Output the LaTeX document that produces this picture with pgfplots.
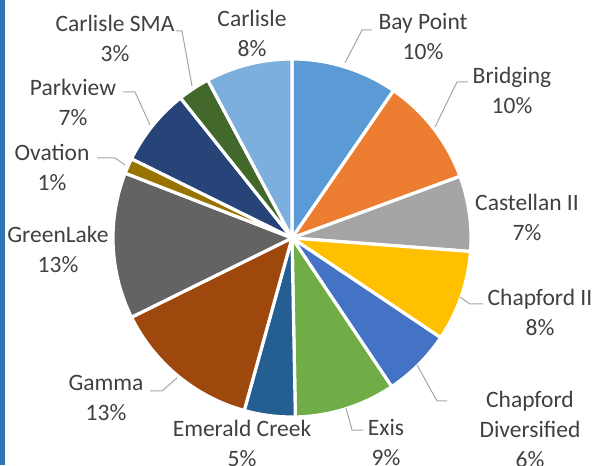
\documentclass[border=0pt]{standalone}
\usepackage{pgfplots}
\pgfplotsset{compat=1.18}
\usepackage{fontspec}
\setmainfont{Carlito}
\definecolor{cBay}{HTML}{5B9BD5}
\definecolor{cBri}{HTML}{ED7D31}
\definecolor{cCas}{HTML}{A5A5A5}
\definecolor{cCh2}{HTML}{FFC000}
\definecolor{cChD}{HTML}{4472C4}
\definecolor{cExi}{HTML}{70AD47}
\definecolor{cEme}{HTML}{255E91}
\definecolor{cGam}{HTML}{9E480E}
\definecolor{cGre}{HTML}{636363}
\definecolor{cOva}{HTML}{997300}
\definecolor{cPar}{HTML}{264478}
\definecolor{cSMA}{HTML}{43682B}
\definecolor{cCar}{HTML}{7CAFDD}
\definecolor{labgray}{HTML}{404040}
\definecolor{leadgray}{HTML}{A6A6A6}
\definecolor{leftblue}{HTML}{2E75B6}
\newcommand\lab{\fontsize{23.5}{30}\selectfont}
\gdef\cum{0}
% #1 = share (percent), #2 = colour
\newcommand\pieslice[2]{%
  \pgfmathsetmacro\sa{90-3.6*\cum}%
  \pgfmathsetmacro\newcum{\cum+#1}%
  \pgfmathsetmacro\sb{90-3.6*\newcum}%
  \edef\doplot{\noexpand\addplot[fill=#2, draw=white, line width=3.2pt, line join=round, domain=\sb:\sa, samples=90, variable=\noexpand\t]
    ({292+179*cos(\noexpand\t)},{227+179*sin(\noexpand\t)}) -- (axis cs:292,227) -- cycle;}%
  \doplot
  \global\let\cum\newcum
}
\begin{document}
\begin{tikzpicture}
\begin{axis}[
  scale only axis, width=593pt, height=465pt,
  xmin=0, xmax=593, ymin=0, ymax=465,
  hide axis, clip=false,
]
\fill[leftblue] (axis cs:0,0) rectangle (axis cs:5,465);
% shares, clockwise from 12 o'clock
\pieslice{9.6}{cBay}   % Bay Point
\pieslice{9.8}{cBri}   % Bridging
\pieslice{6.8}{cCas}   % Castellan II
\pieslice{8.2}{cCh2}   % Chapford II
\pieslice{6.2}{cChD}   % Chapford Diversified
\pieslice{9.1}{cExi}   % Exis
\pieslice{4.6}{cEme}   % Emerald Creek
\pieslice{13.4}{cGam}  % Gamma
\pieslice{13.2}{cGre}  % GreenLake
\pieslice{1.4}{cOva}   % Ovation
\pieslice{7.0}{cPar}   % Parkview
\pieslice{2.9}{cSMA}   % Carlisle SMA
\pieslice{7.8}{cCar}   % Carlisle
% leader lines
\begin{scope}[draw=leadgray, line width=1pt]
\draw (axis cs:176,434) -- (axis cs:182,434) -- (axis cs:192,379);
\draw (axis cs:372,435) -- (axis cs:362,435) -- (axis cs:345,402);
\draw (axis cs:468,383) -- (axis cs:457,383) -- (axis cs:435,338);
\draw (axis cs:483,161) -- (axis cs:470,161) -- (axis cs:460,168);
\draw (axis cs:447,64) -- (axis cs:437,64) -- (axis cs:417,100);
\draw (axis cs:363,35) -- (axis cs:352,35) -- (axis cs:346,57);
\draw (axis cs:150,74) -- (axis cs:162,74) -- (axis cs:177,87);
\draw (axis cs:97,307) -- (axis cs:115,307) -- (axis cs:125,300);
\draw (axis cs:123,373) -- (axis cs:135,373) -- (axis cs:150,340);
\end{scope}
% labels
\begin{scope}[every node/.style={align=center, text=labgray, font=\lab, inner sep=0pt}]
\node at (axis cs:115,427) {Carlisle SMA\\3\%};
\node at (axis cs:252,432) {Carlisle\\8\%};
\node at (axis cs:423,428) {Bay Point\\10\%};
\node at (axis cs:512,375) {Bridging\\10\%};
\node at (axis cs:527,248) {Castellan II\\7\%};
\node at (axis cs:540,153) {Chapford II\\8\%};
\node at (axis cs:530,36) {Chapford\\Diversified\\6\%};
\node at (axis cs:386,22) {Exis\\9\%};
\node at (axis cs:242,22) {Emerald Creek\\5\%};
\node at (axis cs:106,67) {Gamma\\13\%};
\node at (axis cs:58,216) {GreenLake\\13\%};
\node at (axis cs:52,298) {Ovation\\1\%};
\node at (axis cs:73,363) {Parkview\\7\%};
\end{scope}
\end{axis}
\pgfresetboundingbox
\path (0,0) rectangle (593pt,465pt);
\end{tikzpicture}
\end{document}
